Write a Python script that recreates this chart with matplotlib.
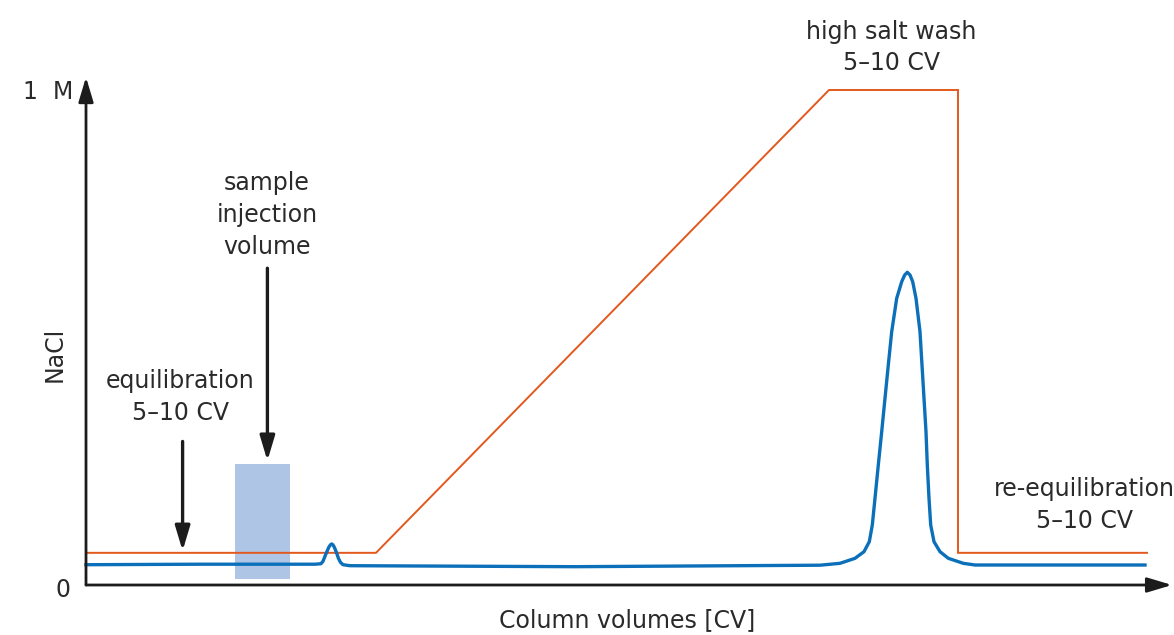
import matplotlib
matplotlib.use("Agg")
import matplotlib.pyplot as plt
from matplotlib.patches import Rectangle

# ---- data (x in column volumes, y in M NaCl) ----
salt_x = [0.0, 14.5, 37.15, 43.6, 43.6, 53.05]
salt_y = [0.065, 0.065, 1.0, 1.0, 0.065, 0.065]

uv_x = [0.0, 5.7, 11.45, 11.75, 11.85, 11.95, 12.05, 12.15, 12.22, 12.285, 12.35, 12.42,
        12.52, 12.62, 12.72, 12.85, 13.2, 24.45, 36.7, 37.7, 38.45, 38.9, 39.165,
        39.315, 39.45, 39.615, 39.785, 39.95, 40.115, 40.285, 40.535, 40.785, 40.935,
        41.065, 41.2, 41.335, 41.5, 41.7, 41.8, 41.9, 42.0, 42.065, 42.15, 42.235,
        42.4, 42.7, 43.115, 43.865, 44.45, 52.95]
uv_y = [0.041, 0.042, 0.042, 0.043, 0.048, 0.058, 0.068, 0.077, 0.081, 0.083, 0.081, 0.076,
        0.066, 0.054, 0.046, 0.041, 0.039, 0.037, 0.040, 0.0438, 0.0539, 0.0673, 0.0875,
        0.1212, 0.1752, 0.2424, 0.3097, 0.3772, 0.4444, 0.5117, 0.5792, 0.6127, 0.6263,
        0.6317, 0.6263, 0.6127, 0.5792, 0.5117, 0.4444, 0.3772, 0.3097, 0.2424, 0.1752,
        0.1212, 0.0875, 0.0673, 0.0539, 0.0438, 0.0404, 0.0404]

inject_x = (7.45, 10.2)      # sample injection volume, CV
inject_h = (0.012, 0.244)    # drawn height of the injection block

labels = {
    "equil": "equilibration\n5\u201310 CV",
    "sample": "sample\ninjection\nvolume",
    "wash": "high salt wash\n5\u201310 CV",
    "reequil": "re-equilibration\n5\u201310 CV",
}

ORANGE = "#e2581d"
BLUE = "#0b70b9"
RECT = "#aec5e6"
INK = "#1c1c1c"
TXT = "#2a2a2a"

plt.rcParams['font.family'] = ['DejaVu Sans']
FS = 17

fig = plt.figure(figsize=(11.74, 6.35), dpi=100)
ax = fig.add_axes([0, 0, 1, 1])
ax.set_xlim(-4.3, 54.4)
ax.set_ylim(-0.101, 1.1818)
ax.axis("off")

ax.add_patch(Rectangle((inject_x[0], inject_h[0]), inject_x[1] - inject_x[0],
                       inject_h[1] - inject_h[0], facecolor=RECT, edgecolor="none", zorder=1))
ax.plot(salt_x, salt_y, color=ORANGE, lw=1.4, zorder=3, solid_joinstyle="miter")
ax.plot(uv_x, uv_y, color=BLUE, lw=2.4, zorder=4, solid_joinstyle="round")

# axes arrows
arr = dict(arrowstyle="-|>,head_length=1.5,head_width=0.45", color=INK, lw=2.0,
           shrinkA=0, shrinkB=0)
ax.annotate("", xy=(0, 1.026), xytext=(0, 0), arrowprops=arr, zorder=5)
ax.annotate("", xy=(54.3, 0), xytext=(0, 0), arrowprops=arr, zorder=5)

# pointer arrows
parr = dict(arrowstyle="-|>,head_length=1.5,head_width=0.45", color=INK, lw=2.4,
            shrinkA=0, shrinkB=0)
ax.annotate("", xy=(4.83, 0.069), xytext=(4.83, 0.29), arrowprops=parr, zorder=5)
ax.annotate("", xy=(9.07, 0.251), xytext=(9.07, 0.640), arrowprops=parr, zorder=5)

ax.text(-0.65, 0.996, "1  M", ha="right", va="center", fontsize=FS, color=TXT)
ax.text(-1.15, -0.010, "0", ha="center", va="center", fontsize=FS, color=TXT)
ax.text(-1.55, 0.465, "NaCl", ha="center", va="center", rotation=90, fontsize=FS, color=TXT)
ax.text(27.05, -0.071, "Column volumes [CV]", ha="center", va="center", fontsize=FS, color=TXT)

ls = 1.4
ax.text(4.7, 0.380, labels["equil"], ha="center", va="center", fontsize=FS, color=TXT, linespacing=ls)
ax.text(9.05, 0.7475, labels["sample"], ha="center", va="center", fontsize=FS, color=TXT, linespacing=ls)
ax.text(40.25, 1.086, labels["wash"], ha="center", va="center", fontsize=FS, color=TXT, linespacing=ls)
ax.text(49.9, 0.1616, labels["reequil"], ha="center", va="center", fontsize=FS, color=TXT, linespacing=ls)

fig.savefig("out.png", dpi=100)
